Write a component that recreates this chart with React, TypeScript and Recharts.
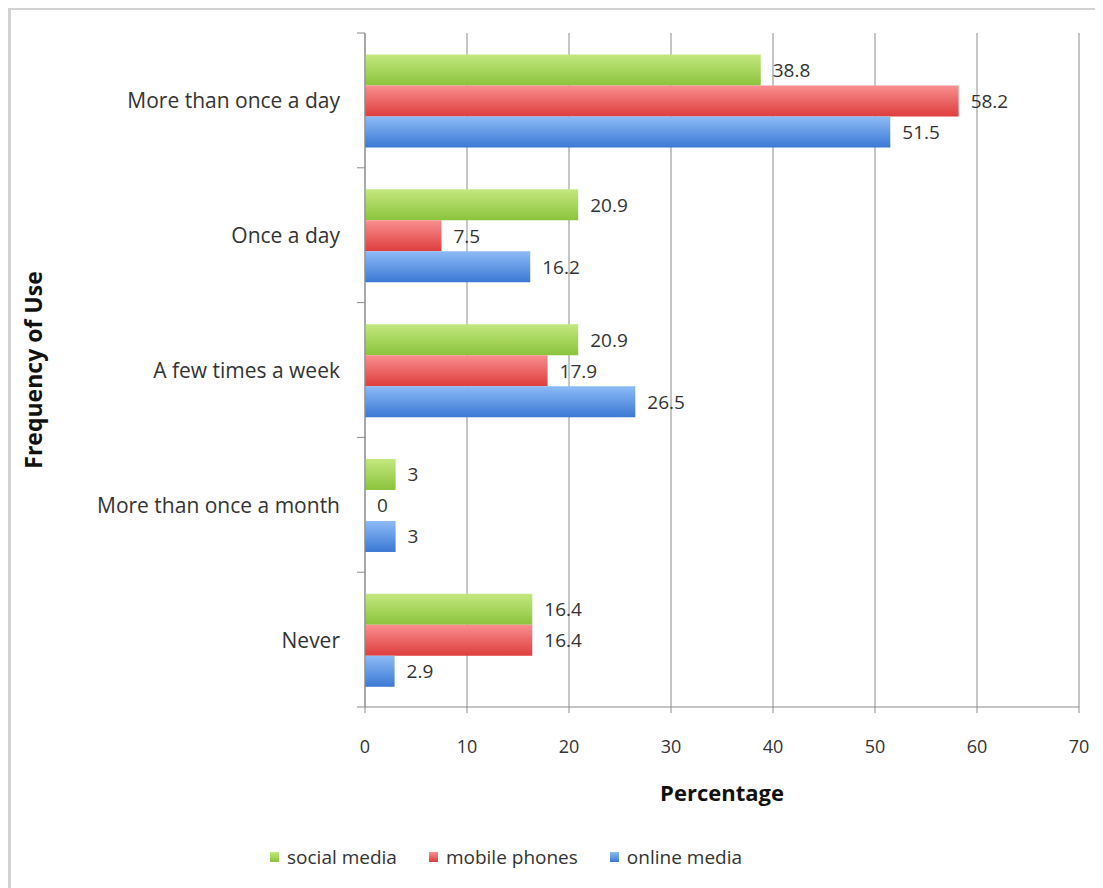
import { Bar, BarChart, CartesianGrid, LabelList, Legend, XAxis, YAxis } from "recharts";

const CATEGORIES = [
  "More than once a day",
  "Once a day",
  "A few times a week",
  "More than once a month",
  "Never",
];
const SOCIAL_MEDIA = [38.8, 20.9, 20.9, 3, 16.4];
const MOBILE_PHONES = [58.2, 7.5, 17.9, 0, 16.4];
const ONLINE_MEDIA = [51.5, 16.2, 26.5, 3, 2.9];
const X_TICKS = [0, 10, 20, 30, 40, 50, 60, 70];

const rows = CATEGORIES.map((cat, i) => ({
  cat,
  social: SOCIAL_MEDIA[i],
  mobile: MOBILE_PHONES[i],
  online: ONLINE_MEDIA[i],
}));

const W = 1095;
const H = 880;
const margin = { top: 25, right: 24, left: 0, bottom: 71 };
const plotH = H - margin.top - margin.bottom - 110;
const band = plotH / CATEGORIES.length;

const font = "'Open Sans', Lato, sans-serif";
const textColor = "#333";
const axisColor = "#8c8c8c";

const series = [
  { key: "social", name: "social media", top: "#c3e87f", bottom: "#8bc33c" },
  { key: "mobile", name: "mobile phones", top: "#f98f8f", bottom: "#de3d3d" },
  { key: "online", name: "online media", top: "#8dbbf6", bottom: "#3b78d4" },
];

function CatTick(props: any) {
  const { x, y, payload, index } = props;
  const ax = x + 25;
  return (
    <g>
      <text
        x={x}
        y={y}
        textAnchor="end"
        dominantBaseline="central"
        fontSize={21}
        fill={textColor}
        fontFamily={font}
      >
        {payload.value}
      </text>
      <line x1={ax - 8} x2={ax} y1={y - band / 2} y2={y - band / 2} stroke={axisColor} />
      {index === CATEGORIES.length - 1 && (
        <line x1={ax - 8} x2={ax} y1={y + band / 2} y2={y + band / 2} stroke={axisColor} />
      )}
    </g>
  );
}

function ValueLabel(p: any) {
  return (
    <text
      x={p.x + p.width + 12}
      y={p.y + p.height / 2}
      dominantBaseline="central"
      fontSize={19}
      fill={textColor}
      fontFamily={font}
    >
      {p.value}
    </text>
  );
}

function LegendBox() {
  return (
    <div style={{ display: "flex", alignItems: "center", fontFamily: font, fontSize: 19, color: textColor }}>
      {series.map((s) => (
        <div key={s.key} style={{ display: "flex", alignItems: "center", marginRight: 32 }}>
          <span
            style={{
              display: "inline-block",
              width: 9,
              height: 10,
              marginRight: 8,
              background: `linear-gradient(${s.top}, ${s.bottom})`,
            }}
          />
          {s.name}
        </div>
      ))}
    </div>
  );
}

export default function App() {
  return (
    <div style={{ position: "relative", width: W, height: H }}>
      <div
        style={{
          position: "absolute",
          left: 0,
          top: -1,
          width: 1091,
          height: 890,
          borderTop: "3px solid #d2d2d2",
          borderLeft: "3px solid #d2d2d2",
          borderRight: "1px solid #eeeeee",
        }}
      />
      <BarChart
        width={W}
        height={H}
        data={rows}
        layout="vertical"
        margin={margin}
        barCategoryGap="16%"
        barGap={0}
      >
        <defs>
          {series.map((s) => (
            <linearGradient key={s.key} id={`g-${s.key}`} x1="0" y1="0" x2="0" y2="1">
              <stop offset="0%" stopColor={s.top} />
              <stop offset="100%" stopColor={s.bottom} />
            </linearGradient>
          ))}
        </defs>
        <CartesianGrid horizontal={false} stroke={axisColor} />
        <XAxis
          type="number"
          domain={[0, 70]}
          ticks={X_TICKS}
          interval={0}
          height={110}
          stroke={axisColor}
          tickSize={6}
          tickMargin={27}
          tick={{ fontSize: 18, fill: textColor, fontFamily: font }}
          label={{
            value: "Percentage",
            position: "insideBottom",
            offset: 16,
            fontSize: 22,
            fontWeight: 700,
            fill: "#111",
            fontFamily: font,
          }}
        />
        <YAxis
          type="category"
          dataKey="cat"
          width={357}
          stroke={axisColor}
          tickLine={false}
          tickSize={8}
          tickMargin={17}
          interval={0}
          tick={<CatTick />}
          label={{
            content: (p: any) => {
              const vb = p.viewBox;
              const cx = vb.x + 25;
              const cy = vb.y + vb.height / 2;
              return (
                <text
                  x={cx}
                  y={cy}
                  transform={`rotate(-90 ${cx} ${cy})`}
                  textAnchor="middle"
                  dominantBaseline="central"
                  fontSize={23}
                  fontWeight={700}
                  fill="#111"
                  fontFamily={font}
                >
                  Frequency of Use
                </text>
              );
            },
          }}
        />
        <Legend
          verticalAlign="middle"
          align="center"
          wrapperStyle={{ top: 836, left: 262, width: "auto" }}
          content={<LegendBox />}
        />
        {series.map((s) => (
          <Bar
            key={s.key}
            dataKey={s.key}
            name={s.name}
            fill={`url(#g-${s.key})`}
            minPointSize={(v: number) => (v === 0 ? 0.01 : 0)}
            isAnimationActive={false}
          >
            <LabelList dataKey={s.key} content={<ValueLabel />} />
          </Bar>
        ))}
      </BarChart>
    </div>
  );
}
